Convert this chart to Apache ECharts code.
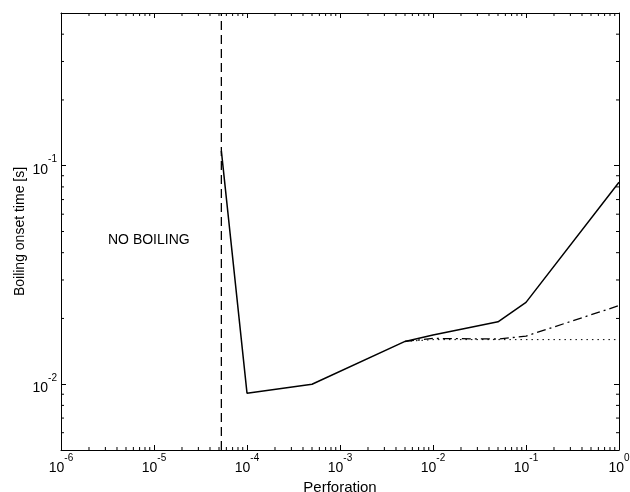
<!DOCTYPE html>
<html>
<head>
<meta charset="utf-8">
<script src="https://cdn.jsdelivr.net/npm/echarts@6/dist/echarts.min.js"></script>
<style>
html,body{margin:0;padding:0;background:#fff;}
#c{width:630px;height:492px;}
</style>
</head>
<body>
<div id="c"></div>
<script>
// ---- data ----
const perforation = [5.3e-5, 1e-4, 5e-4, 5e-3, 1e-2, 5e-2, 1e-1, 1];
const solidTime   = [0.117, 0.0091, 0.0100, 0.0157, 0.0168, 0.0193, 0.0237, 0.084];
const branchPerf  = [5e-3, 1e-2, 5e-2, 1e-1, 1];
const dashDotTime = [0.0157, 0.0162, 0.0161, 0.0166, 0.0229];
const dottedTime  = [0.0157, 0.0160, 0.0160, 0.0160, 0.0160];
const boundaryPerf = [5.3e-5, 5.3e-5];
const boundaryTime = [0.005, 0.5];
const xRange = [1e-6, 1];
const yRange = [0.005, 0.5];
const xMinorTicks = [];
for (let e = -6; e < 0; e++) for (let m = 2; m <= 9; m++) xMinorTicks.push(m * Math.pow(10, e));
const yMinorTicks = [0.006, 0.007, 0.008, 0.009, 0.02, 0.03, 0.04, 0.05, 0.06, 0.07, 0.08, 0.09, 0.2, 0.3, 0.4];

const FONT = 'Liberation Sans';
const zip = (xs, ys) => xs.map((x, i) => [x, ys[i]]);

function decadeLabel(v) {
  const e = Math.log10(v);
  if (Math.abs(e - Math.round(e)) > 1e-6) return '';
  return '{b|10}{s|' + Math.round(e) + '}';
}
const rich = {
  b: {fontFamily: FONT, fontSize: 14, color: '#000', lineHeight: 22, verticalAlign: 'bottom'},
  s: {fontFamily: FONT, fontSize: 10, color: '#000', lineHeight: 22, verticalAlign: 'top'}
};

const chart = echarts.init(document.getElementById('c'), null, {renderer: 'canvas'});
const lineBase = {type: 'line', symbol: 'none', silent: true, animation: false, xAxisIndex: 0, yAxisIndex: 0};

const option = {
  animation: false,
  backgroundColor: '#fff',
  grid: {left: 61, right: 11, top: 13, bottom: 42, containLabel: false, outerBoundsMode: 'none'},
  xAxis: [{
    type: 'log', logBase: 10, min: xRange[0], max: xRange[1],
    name: 'Perforation', nameLocation: 'middle', nameGap: 25,
    nameTextStyle: {fontFamily: FONT, fontSize: 15, color: '#000'},
    axisLine: {lineStyle: {color: '#000', width: 1}},
    axisTick: {inside: true, length: 5, lineStyle: {color: '#000'}},
    axisLabel: {formatter: decadeLabel, rich: rich, margin: 3},
    splitLine: {show: false}
  }, {
    type: 'log', logBase: 10, min: xRange[0], max: xRange[1], position: 'top',
    axisLine: {lineStyle: {color: '#000', width: 1}},
    axisTick: {inside: true, length: 5, lineStyle: {color: '#000'}},
    axisLabel: {show: false}, splitLine: {show: false}
  }],
  yAxis: [{
    type: 'log', logBase: 10, min: yRange[0], max: yRange[1],
    name: 'Boiling onset time [s]', nameLocation: 'middle', nameGap: 34, nameMoveOverlap: false,
    nameTextStyle: {fontFamily: FONT, fontSize: 14, color: '#000'},
    axisLine: {lineStyle: {color: '#000', width: 1}},
    axisTick: {inside: true, length: 5, lineStyle: {color: '#000'}},
    axisLabel: {formatter: decadeLabel, rich: rich, margin: 4},
    splitLine: {show: false}
  }, {
    type: 'log', logBase: 10, min: yRange[0], max: yRange[1], position: 'right',
    axisLine: {lineStyle: {color: '#000', width: 1}},
    axisTick: {inside: true, length: 5, lineStyle: {color: '#000'}},
    axisLabel: {show: false}, splitLine: {show: false}
  }],
  graphic: [{
    type: 'text', left: 108, top: 233, silent: true,
    style: {text: 'NO BOILING', fontFamily: FONT, fontSize: 14, fill: '#000'}
  }],
  series: [
    Object.assign({}, lineBase, {
      name: 'boundary', data: zip(boundaryPerf, boundaryTime),
      lineStyle: {color: '#000', width: 1.3, type: [9, 5]}
    }),
    Object.assign({}, lineBase, {
      name: 'dotted', data: zip(branchPerf, dottedTime),
      lineStyle: {color: '#000', width: 1, type: [1.5, 4]}
    }),
    Object.assign({}, lineBase, {
      name: 'dashdot', data: zip(branchPerf, dashDotTime),
      lineStyle: {color: '#000', width: 1.3, type: [9, 4, 2, 4]}
    }),
    Object.assign({}, lineBase, {
      name: 'solid', data: zip(perforation, solidTime),
      lineStyle: {color: '#000', width: 1.5}
    }),
    {
      type: 'custom', silent: true, animation: false, xAxisIndex: 0, yAxisIndex: 0,
      data: xMinorTicks.map(v => [v, yRange[0]]),
      renderItem: function (params, api) {
        const b = api.coord([api.value(0), yRange[0]]);
        const t = api.coord([api.value(0), yRange[1]]);
        const st = {stroke: '#000', lineWidth: 1};
        return {type: 'group', children: [
          {type: 'line', shape: {x1: b[0], y1: b[1], x2: b[0], y2: b[1] - 3}, style: st},
          {type: 'line', shape: {x1: t[0], y1: t[1], x2: t[0], y2: t[1] + 3}, style: st}
        ]};
      }
    },
    {
      type: 'custom', silent: true, animation: false, xAxisIndex: 0, yAxisIndex: 0,
      data: yMinorTicks.map(v => [xRange[0], v]),
      renderItem: function (params, api) {
        const l = api.coord([xRange[0], api.value(1)]);
        const r = api.coord([xRange[1], api.value(1)]);
        const st = {stroke: '#000', lineWidth: 1};
        return {type: 'group', children: [
          {type: 'line', shape: {x1: l[0], y1: l[1], x2: l[0] + 3, y2: l[1]}, style: st},
          {type: 'line', shape: {x1: r[0], y1: r[1], x2: r[0] - 3, y2: r[1]}, style: st}
        ]};
      }
    }
  ]
};
chart.setOption(option);
</script>
</body>
</html>
